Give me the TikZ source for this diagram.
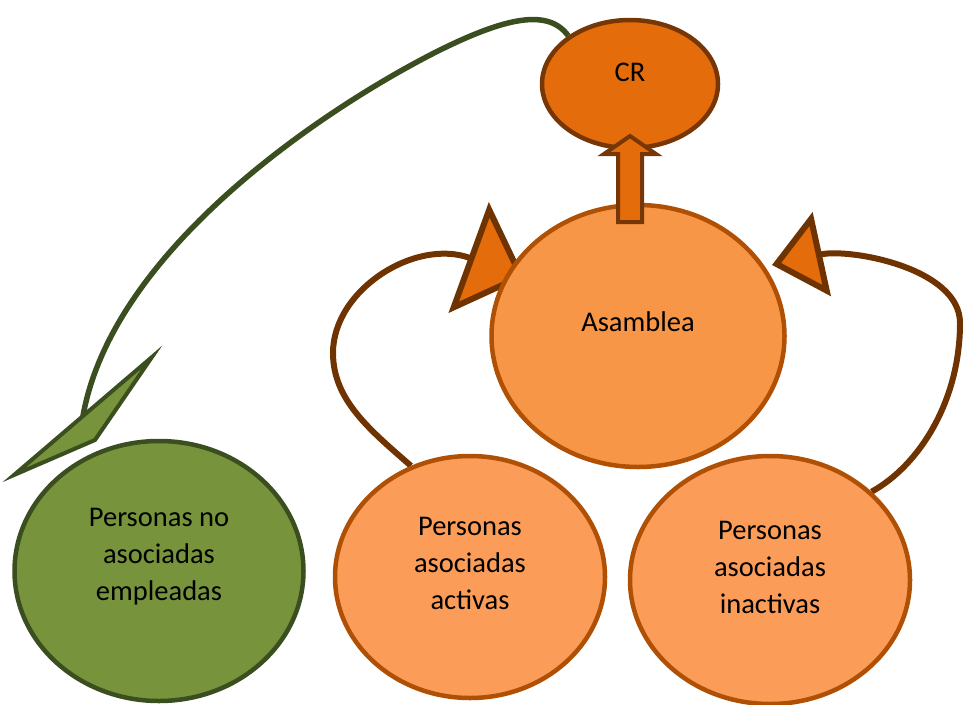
\documentclass[tikz,border=0pt]{standalone}
\usepackage{fontspec}
\setmainfont{Carlito}
\usetikzlibrary{arrows.meta, shapes.geometric}

\definecolor{crfill}{HTML}{E46C0A}
\definecolor{crline}{HTML}{773605}
\definecolor{asfill}{HTML}{F79646}
\definecolor{asline}{HTML}{B05004}
\definecolor{pfill}{HTML}{FB9D59}
\definecolor{gfill}{HTML}{77933C}
\definecolor{gline}{HTML}{3B4E1F}
\definecolor{loopline}{HTML}{6E3300}

\pgfdeclarelayer{back}
\pgfsetlayers{back,main}

\begin{document}
\begin{tikzpicture}[x=1pt, y=-1pt,
    font=\fontsize{28.5}{37}\selectfont,
    bubble/.style={draw, ellipse, line width=4.5pt, inner sep=0pt},
    loopy/.style={draw=loopline, line width=6pt},
]
    \useasboundingbox (0,0) rectangle (963,704);

    \node [bubble, fill=crfill, draw=crline,
        minimum width=176, minimum height=128,
        label={[yshift=12pt]center:CR}
    ] (cr) at (630,84) {};

    \node [bubble, fill=asfill, draw=asline,
        minimum width=293, minimum height=262,
        label={[yshift=14pt]center:Asamblea}
    ] (asamblea) at (638,336) {};

    \node [bubble, fill=pfill, draw=asline,
        minimum width=270, minimum height=242,
        label={[align=center, yshift=14pt]center:Personas\\asociadas\\activas}
    ] (activas) at (470,577) {};

    \node [bubble, fill=pfill, draw=asline,
        minimum width=280, minimum height=248,
        label={[align=center, yshift=13pt]center:Personas\\asociadas\\inactivas}
    ] (inactivas) at (770,580) {};

    \node [bubble, fill=gfill, draw=gline,
        minimum width=289, minimum height=260,
        label={[align=center, yshift=14pt]center:Personas no\\asociadas\\empleadas}
    ] (empleadas) at (159,571) {};

    % lazos
    \begin{pgfonlayer}{back}
        \draw [loopy, -{Triangle[length=60pt, width=117pt, fill=crfill]}]
            (activas.118) .. controls (370,430) and (333,400) .. (333,353)
            .. controls (333,290) and (415,238) .. (525,278);
        \draw [loopy, -{Triangle[length=51pt, width=85pt, fill=crfill]}]
            (inactivas.41) .. controls (920,465) and (960,400) .. (960,323)
            .. controls (960,268) and (850,248) .. (772,265);
        \coordinate (gtail) at (82,422);
        \draw [draw=gline, line width=5.5pt]
            (cr.142) .. controls (548,8) and (505,18) .. (440,50)
            .. controls (330,105) and (108,250) .. (gtail);
    \end{pgfonlayer}

    % flechas
    \filldraw [fill=gfill, draw=gline, line width=4pt]
        (14,475) -- (152,357) -- (95,440) -- cycle;
    \filldraw [fill=crfill, draw=crline, line width=4pt]
        (618,222) -- (618,154) -- (604,154) -- (630,136)
        -- (656,154) -- (642,154) -- (642,222) -- cycle;
\end{tikzpicture}
\end{document}
